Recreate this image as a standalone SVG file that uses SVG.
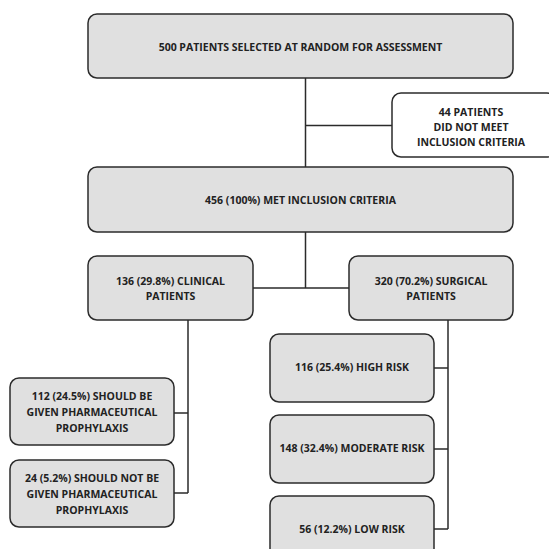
<svg xmlns="http://www.w3.org/2000/svg" width="549" height="549" viewBox="0 0 549 549">
<style>
.box{fill:#e0e0e0;stroke:#2b2b2b;stroke-width:1.5}
.wbox{fill:#ffffff;stroke:#2b2b2b;stroke-width:1.5}
.t{font-family:"Open Sans","DejaVu Sans",sans-serif;font-weight:700;font-size:10.5px;fill:#222222;text-anchor:middle}
.c{fill:none;stroke:#2b2b2b;stroke-width:1.5}
</style>
<rect width="549" height="549" fill="#ffffff"/>
<g id="connectors">
<path class="c" d="M305.5 78V167M305.5 125.5H392"/>
<path class="c" d="M305.5 232V288M253 288H349"/>
<path class="c" d="M188 320V493M174 413H188M174 493H188"/>
<path class="c" d="M448 320V529M434 368H448M434 449H448M434 529H448"/>
</g>
<g id="n1"><rect class="box" x="88" y="14" width="425" height="64" rx="9"/><text class="t" x="300.5" y="50.5">500 PATIENTS SELECTED AT RANDOM FOR ASSESSMENT</text></g>
<g id="n2"><rect class="wbox" x="392" y="93" width="164" height="64" rx="9"/><text class="t" x="471" y="115.5">44 PATIENTS</text><text class="t" x="471" y="130.5">DID NOT MEET</text><text class="t" x="471" y="145.5">INCLUSION CRITERIA</text></g>
<g id="n3"><rect class="box" x="88" y="167" width="425" height="65" rx="9"/><text class="t" x="300.5" y="203.5">456 (100%) MET INCLUSION CRITERIA</text></g>
<g id="n4"><rect class="box" x="88" y="256" width="165" height="64" rx="9"/><text class="t" x="170.5" y="284.5">136 (29.8%) CLINICAL</text><text class="t" x="170.5" y="299.5">PATIENTS</text></g>
<g id="n5"><rect class="box" x="349" y="256" width="164" height="64" rx="9"/><text class="t" x="431" y="284.5">320 (70.2%) SURGICAL</text><text class="t" x="431" y="299.5">PATIENTS</text></g>
<g id="n6"><rect class="box" x="10" y="378" width="164" height="67" rx="9"/><text class="t" x="92" y="399.5">112 (24.5%) SHOULD BE</text><text class="t" x="92" y="415.5">GIVEN PHARMACEUTICAL</text><text class="t" x="92" y="431.5">PROPHYLAXIS</text></g>
<g id="n7"><rect class="box" x="10" y="460" width="164" height="67" rx="9"/><text class="t" x="92" y="482">24 (5.2%) SHOULD NOT BE</text><text class="t" x="92" y="497.5">GIVEN PHARMACEUTICAL</text><text class="t" x="92" y="513.5">PROPHYLAXIS</text></g>
<g id="n8"><rect class="box" x="270" y="334" width="164" height="68" rx="9"/><text class="t" x="352" y="370.5">116 (25.4%) HIGH RISK</text></g>
<g id="n9"><rect class="box" x="270" y="415" width="164" height="68" rx="9"/><text class="t" x="352" y="452">148 (32.4%) MODERATE RISK</text></g>
<g id="n10"><rect class="box" x="270" y="496" width="164" height="68" rx="9"/><text class="t" x="352" y="532.5">56 (12.2%) LOW RISK</text></g>
</svg>
